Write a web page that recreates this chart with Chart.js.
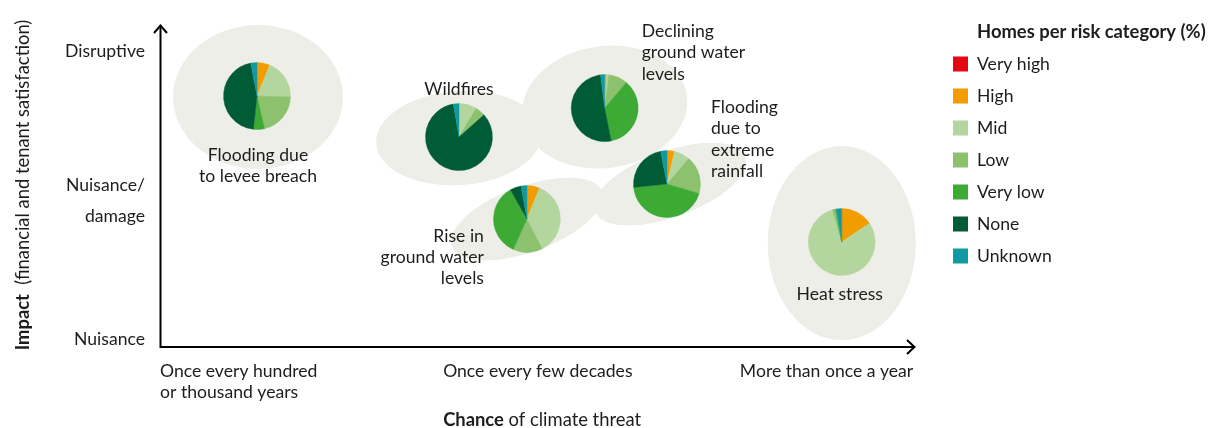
<!DOCTYPE html>
<html>
<head>
<meta charset="utf-8">
<script src="https://cdn.jsdelivr.net/npm/chart.js@4"></script>
<style>
html,body{margin:0;padding:0;background:#ffffff;}
#wrap{width:1215px;height:428px;position:relative;overflow:hidden;}
</style>
</head>
<body>
<div id="wrap"><canvas id="c" width="1215" height="428"></canvas></div>
<script>
// ---------- DATA ----------
const threats = ['Flooding due to levee breach', 'Wildfires', 'Declining ground water levels',
                 'Flooding due to extreme rainfall', 'Rise in ground water levels', 'Heat stress'];
const threatLabelLines = [['Flooding due', 'to levee breach'], ['Wildfires'], ['Declining', 'ground water', 'levels'],
                          ['Flooding', 'due to', 'extreme', 'rainfall'], ['Rise in', 'ground water', 'levels'], ['Heat stress']];
// position of each threat: chance (x, 0-100) and impact (y, 0-100)
const chance = [12.85, 39.6, 58.9, 67.15, 48.6, 90.3];
const impact = [77.95, 65.2, 74.2, 50.6, 39.75, 32.6];

const riskCategories = ['Very high', 'High', 'Mid', 'Low', 'Very low', 'None', 'Unknown'];
// share of homes (%) per risk category, one value per threat (same order as threats)
const veryHigh = [0, 0, 0, 0, 0, 0];
const high     = [6.2, 0.3, 0.8, 3.6, 6.1, 15.5];
const mid      = [19.2, 8.2, 1.1, 7.6, 36.4, 80.0];
const low      = [21.0, 4.9, 9.3, 18.3, 14.2, 1.5];
const veryLow  = [5.3, 0, 35.7, 43.9, 35.1, 0.5];
const none     = [45.3, 83.9, 51.1, 23.6, 5.4, 0];
const unknown  = [3.0, 2.7, 2.0, 3.0, 2.8, 2.5];
const riskSeries = [veryHigh, high, mid, low, veryLow, none, unknown];

const xTickValues = [0, 37.5, 76.8];
const xTickLabels = [['Once every hundred', 'or thousand years'], 'Once every few decades', 'More than once a year'];
const yTickValues = [2.5, 45.5, 91.9];
const yTickLabels = ['Nuisance', ['Nuisance/', 'damage'], 'Disruptive'];

// ---------- STYLE ----------
const riskColors = ['#E30613', '#F39C00', '#B3D69E', '#8CC26E', '#3DAA35', '#005C35', '#0F9AA3'];
const FONT = 'Lato';
const FS = 17.6;      // regular text size
const FT = 18.4;      // title text size
const TEXT = '#1d1d1b';
const BLOB = '#EDEEE8';
const PIE_R = 33.5;
const ellipseStyle = [
  {dx: 1, dy: 1, rx: 85, ry: 72, rot: 0},
  {dx: 0, dy: 1, rx: 83, ry: 47, rot: -4},
  {dx: 0, dy: -1, rx: 83, ry: 61, rot: -8},
  {dx: 3, dy: 0, rx: 80, ry: 33, rot: -20},
  {dx: 0, dy: 0, rx: 80, ry: 33, rot: -20},
  {dx: 0, dy: 1, rx: 74, ry: 97, rot: 0}
];
const labelStyle = [
  {dx: 1, dy: 59, align: 'center'},
  {dx: 0, dy: -48, align: 'center'},
  {dx: 37, dy: -77, align: 'left'},
  {dx: 44, dy: -77, align: 'left'},
  {dx: -43, dy: 17, align: 'right'},
  {dx: -2, dy: 52, align: 'center'}
];

const decor = {
  id: 'decor',
  beforeDatasetsDraw(chart) {
    const ctx = chart.ctx;
    const meta = chart.getDatasetMeta(0);
    ctx.save();
    ctx.fillStyle = BLOB;
    meta.data.forEach((pt, i) => {
      const e = ellipseStyle[i];
      ctx.beginPath();
      ctx.ellipse(pt.x + e.dx, pt.y + e.dy, e.rx, e.ry, e.rot * Math.PI / 180, 0, Math.PI * 2);
      ctx.fill();
    });
    ctx.restore();
  },
  afterDatasetsDraw(chart) {
    const ctx = chart.ctx;
    const meta = chart.getDatasetMeta(0);
    ctx.save();
    meta.data.forEach((pt, i) => {
      const cx = pt.x, cy = pt.y;
      const total = riskSeries.reduce((s, arr) => s + arr[i], 0);
      let a = -Math.PI / 2;
      riskSeries.forEach((arr, k) => {
        const v = arr[i];
        if (!v) return;
        const a2 = a + v / total * Math.PI * 2;
        ctx.beginPath();
        ctx.moveTo(cx, cy);
        ctx.arc(cx, cy, PIE_R, a, a2);
        ctx.closePath();
        ctx.fillStyle = riskColors[k];
        ctx.fill();
        ctx.lineWidth = 0.4;
        ctx.strokeStyle = riskColors[k];
        ctx.stroke();
        a = a2;
      });
      // label
      const ls = labelStyle[i];
      ctx.fillStyle = TEXT;
      ctx.font = FS + 'px ' + FONT;
      ctx.textAlign = ls.align;
      ctx.textBaseline = 'middle';
      threatLabelLines[i].forEach((line, j) => {
        ctx.fillText(line, cx + ls.dx, cy + ls.dy + j * 21.4);
      });
    });
    ctx.restore();
  },
  afterDraw(chart) {
    const ctx = chart.ctx;
    const ca = chart.chartArea;
    ctx.save();
    // axes
    ctx.strokeStyle = '#000';
    ctx.lineWidth = 2;
    ctx.lineCap = 'butt';
    ctx.beginPath();
    ctx.moveTo(ca.left + 0.5, ca.top);
    ctx.lineTo(ca.left + 0.5, ca.bottom);
    ctx.lineTo(ca.right, ca.bottom);
    ctx.stroke();
    // arrowheads
    ctx.lineJoin = 'miter';
    ctx.beginPath();
    ctx.moveTo(ca.left + 0.5 - 6.5, ca.top + 8);
    ctx.lineTo(ca.left + 0.5, ca.top + 0.5);
    ctx.lineTo(ca.left + 0.5 + 6.5, ca.top + 8);
    ctx.stroke();
    ctx.beginPath();
    ctx.moveTo(ca.right - 8, ca.bottom - 7);
    ctx.lineTo(ca.right - 0.5, ca.bottom);
    ctx.lineTo(ca.right - 8, ca.bottom + 7);
    ctx.stroke();

    ctx.fillStyle = TEXT;
    ctx.textBaseline = 'middle';
    // y axis title (rotated, mixed weight)
    ctx.save();
    ctx.translate(23, 185);
    ctx.rotate(-Math.PI / 2);
    const boldPart = 'Impact', regPart = '  (financial and tenant satisfaction)';
    ctx.font = 'bold ' + FT + 'px ' + FONT;
    const wb = ctx.measureText(boldPart).width;
    ctx.font = FT + 'px ' + FONT;
    const wr = ctx.measureText(regPart).width;
    let sx = -(wb + wr) / 2;
    ctx.textAlign = 'left';
    ctx.font = 'bold ' + FT + 'px ' + FONT;
    ctx.fillText(boldPart, sx, 0);
    ctx.font = FT + 'px ' + FONT;
    ctx.fillText(regPart, sx + wb, 0);
    ctx.restore();
    // x axis title
    const xs = chart.scales.x;
    ctx.textAlign = 'left';
    ctx.font = 'bold ' + FT + 'px ' + FONT;
    const xb = 'Chance';
    const xStart = xs.getPixelForValue(xTickValues[1]);
    ctx.fillText(xb, xStart, 420);
    const wxb = ctx.measureText(xb).width;
    ctx.font = FT + 'px ' + FONT;
    ctx.fillText(' of climate threat', xStart + wxb, 420);

    // legend
    ctx.font = 'bold ' + FT + 'px ' + FONT;
    ctx.fillText('Homes per risk category (%)', 977, 32);
    ctx.font = FS + 'px ' + FONT;
    riskCategories.forEach((name, k) => {
      const y = 64 + k * 32;
      ctx.fillStyle = riskColors[k];
      ctx.fillRect(953, y - 7.5, 15, 15);
      ctx.fillStyle = TEXT;
      ctx.fillText(name, 977, y);
    });
    ctx.restore();
  }
};

new Chart(document.getElementById('c'), {
  type: 'scatter',
  data: {
    datasets: [{
      label: 'Climate threats',
      data: chance.map((x, i) => ({x: x, y: impact[i]})),
      pointRadius: 0,
      pointHoverRadius: 0
    }]
  },
  options: {
    responsive: false,
    animation: false,
    events: [],
    layout: {padding: {left: 0, top: 25, right: 300, bottom: 0}},
    plugins: {legend: {display: false}, tooltip: {enabled: false}},
    scales: {
      x: {
        type: 'linear', min: 0, max: 100,
        afterBuildTicks: s => { s.ticks = xTickValues.map(v => ({value: v})); },
        afterFit: s => { s.height = 81; s.paddingLeft = 0; s.paddingRight = 0; },
        grid: {display: false, drawTicks: false},
        border: {display: false},
        ticks: {
          align: 'start', padding: 13.5, color: TEXT, maxRotation: 0, autoSkip: false,
          font: {family: FONT, size: FS, lineHeight: 1.2},
          callback: (v, i) => xTickLabels[i]
        }
      },
      y: {
        type: 'linear', min: 0, max: 100,
        afterBuildTicks: s => { s.ticks = yTickValues.map(v => ({value: v})); },
        afterFit: s => { s.width = 160; s.paddingTop = 0; s.paddingBottom = 0; },
        grid: {display: false, drawTicks: false},
        border: {display: false},
        ticks: {
          padding: 15, color: TEXT, autoSkip: false,
          font: {family: FONT, size: FS, lineHeight: 1.77},
          callback: (v, i) => yTickLabels[i]
        }
      }
    }
  },
  plugins: [decor]
});
</script>
</body>
</html>
